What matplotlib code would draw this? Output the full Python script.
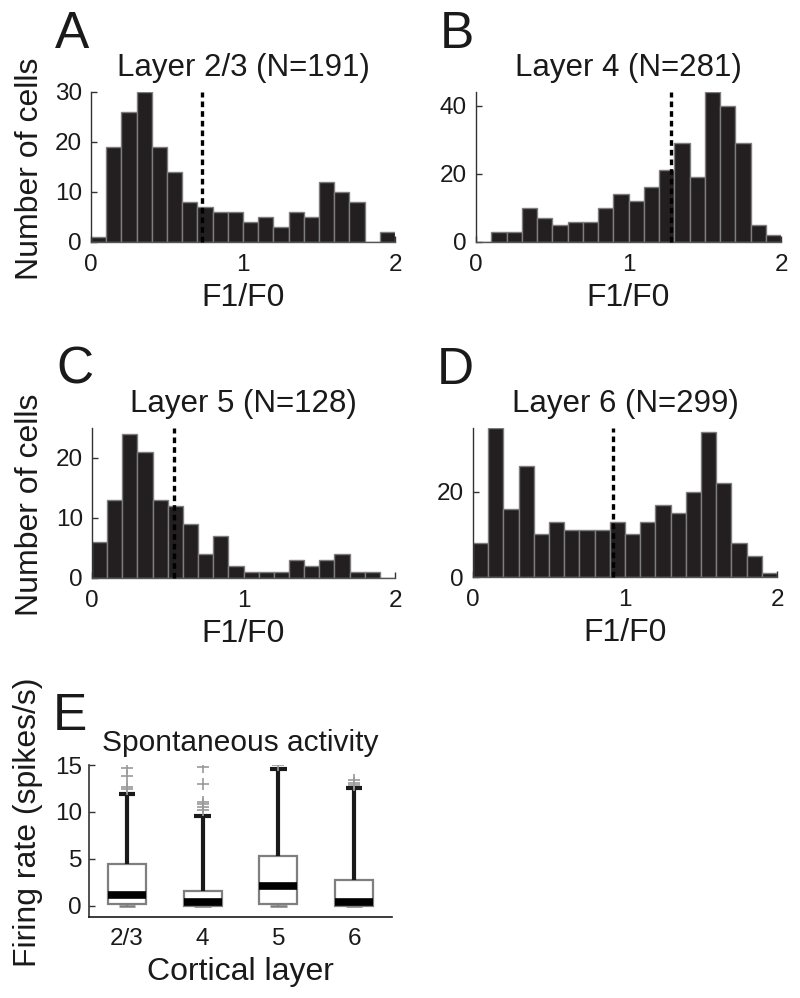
import matplotlib
matplotlib.use('Agg')
import matplotlib.pyplot as plt

plt.rcParams['font.family'] = ['Liberation Sans', 'DejaVu Sans']

# ---------------- data ----------------
bin_left = [0.0, 0.1, 0.2, 0.3, 0.4, 0.5, 0.6, 0.7, 0.8, 0.9,
            1.0, 1.1, 1.2, 1.3, 1.4, 1.5, 1.6, 1.7, 1.8, 1.9]
bin_width = 0.1

counts_l23 = [1, 19, 26, 30, 19, 14, 8, 7, 6, 6, 4, 5, 3, 6, 5, 12, 10, 8, 0, 2]
counts_l4 = [0, 3, 3, 10, 7, 5, 6, 6, 10, 14, 12, 16, 21, 29, 19, 44, 40, 29, 5, 2]
counts_l5 = [6, 13, 24, 21, 13, 12, 9, 4, 7, 2, 1, 1, 1, 3, 2, 3, 4, 1, 1, 0]
counts_l6 = [8, 35, 16, 26, 10, 13, 11, 11, 11, 13, 10, 13, 17, 15, 20, 34, 22, 8, 5, 1]

hist_titles = ['Layer 2/3 (N=191)', 'Layer 4 (N=281)', 'Layer 5 (N=128)', 'Layer 6 (N=299)']
median_f1f0 = [0.73, 1.28, 0.54, 0.92]
panel_letters = ['A', 'B', 'C', 'D', 'E']
x_ticks = [0, 1, 2]
y_limits = [30, 44, 25, 35]
y_ticks = [[0, 10, 20, 30], [0, 20, 40], [0, 10, 20], [0, 20]]

layers = ['2/3', '4', '5', '6']
q1 = [0.2, 0.0, 0.2, 0.0]
med = [1.15, 0.37, 2.1, 0.37]
q3 = [4.5, 1.55, 5.3, 2.7]
whis_lo = [0.0, 0.0, 0.0, 0.0]
whis_hi = [11.9, 9.6, 14.55, 12.5]
fliers = [[12.4, 12.7, 13.8, 14.7],
          [10.2, 10.5, 10.8, 11.1, 13.0, 14.8],
          [15.0],
          [12.9, 13.1, 13.4]]
e_yticks = [0, 5, 10, 15]

# ---------------- layout ----------------
W, H = 800, 998
fig = plt.figure(figsize=(W / 100, H / 100), dpi=100)


def px_axes(l, t, r, b):
    return fig.add_axes([l / W, 1 - b / H, (r - l) / W, (b - t) / H])


rects = [(91, 92, 395, 242), (476, 92, 781, 242),
         (92, 428, 395, 578), (473, 428, 777, 577)]
all_counts = [counts_l23, counts_l4, counts_l5, counts_l6]

BAR = '#231f20'
EDGE = '#7d7d7d'
TICK_FS = 17.5
LABEL_FS = 23
TITLE_FS = 22.5
LETTER_FS = 37

for i, (rect, counts) in enumerate(zip(rects, all_counts)):
    ax = px_axes(*rect)
    h_px = rect[3] - rect[1]
    ax.bar(bin_left, counts, width=bin_width, align='edge',
           color=BAR, edgecolor=EDGE, linewidth=1.0, zorder=2)
    ax.plot([median_f1f0[i], median_f1f0[i]], [0, y_limits[i]],
            color='black', lw=2.4, linestyle=(0, (1.7, 1.2)), zorder=3,
            clip_on=False)
    ax.set_xlim(0, 2)
    ax.set_ylim(0, y_limits[i])
    ax.set_xticks(x_ticks)
    ax.set_xticklabels([str(t) for t in x_ticks])
    ax.set_yticks(y_ticks[i])
    for s in ['top', 'right']:
        ax.spines[s].set_visible(False)
    ax.spines['left'].set_color('#333333')
    ax.spines['bottom'].set_color('#555555')
    ax.spines['left'].set_linewidth(1.0)
    ax.spines['bottom'].set_linewidth(1.0)
    ax.tick_params(axis='both', direction='in', length=4, width=1,
                   colors='#333333', labelcolor='#1a1a1a', labelsize=TICK_FS)
    ax.tick_params(axis='x', pad=8.5)
    ax.tick_params(axis='y', pad=6.5)
    ax.set_title(hist_titles[i], fontsize=TITLE_FS, pad=11.5, color='#1a1a1a')
    ax.set_xlabel('F1/F0', fontsize=LABEL_FS, color='#1a1a1a', va='top')
    ax.xaxis.set_label_coords(0.5, -41 / h_px)
    if i % 2 == 0:
        ax.set_ylabel('Number of cells', fontsize=LABEL_FS, color='#1a1a1a')
        ax.yaxis.set_label_coords(-(rect[0] - 45) / (rect[2] - rect[0]), 0.49)
    fig.text((rect[0] - 36) / W, 1 - (rect[1] - 44) / H, panel_letters[i],
             fontsize=LETTER_FS, va='baseline', ha='left', color='#1a1a1a')

# ---------------- panel E ----------------
rectE = (89, 765, 392, 917)
axE = px_axes(*rectE)
stats = []
for k in range(len(layers)):
    stats.append(dict(label=layers[k], q1=q1[k], med=med[k], q3=q3[k],
                      whislo=whis_lo[k], whishi=whis_hi[k], fliers=fliers[k]))
positions = [1, 2, 3, 4]
bp = axE.bxp(stats, positions=positions, widths=0.5, capwidths=0.22,
             patch_artist=True, showfliers=True,
             boxprops=dict(facecolor='white', edgecolor='#7f7f7f', linewidth=1.6),
             whiskerprops=dict(color='#1a1a1a', linewidth=3.0, solid_capstyle='butt'),
             capprops=dict(color='#1a1a1a', linewidth=3.0, solid_capstyle='butt'),
             medianprops=dict(color='black', linewidth=5.5, solid_capstyle='butt'),
             flierprops=dict(marker='+', markeredgecolor='#9a9a9a', markersize=8,
                             markeredgewidth=1.2, linestyle='none'))
# lower caps thin and grey, lower whiskers grey
for k in range(len(layers)):
    bp['caps'][2 * k].set_color('#7f7f7f')
    bp['caps'][2 * k].set_linewidth(1.8)
    bp['whiskers'][2 * k].set_color('#7f7f7f')
    bp['whiskers'][2 * k].set_linewidth(1.6)
for b in bp['boxes']:
    b.set_zorder(2)
for m in bp['medians']:
    m.set_zorder(3)

axE.set_xlim(0.5, 4.5)
axE.set_ylim(-1.2, 15)
axE.set_yticks(e_yticks)
axE.set_xticks(positions)
axE.set_xticklabels(layers)
for s in ['top', 'right']:
    axE.spines[s].set_visible(False)
axE.spines['left'].set_color('#333333')
axE.spines['bottom'].set_color('#1a1a1a')
axE.spines['left'].set_linewidth(1.2)
axE.spines['bottom'].set_linewidth(1.2)
axE.tick_params(axis='both', direction='in', length=4, width=1,
                colors='#333333', labelcolor='#1a1a1a', labelsize=TICK_FS)
axE.tick_params(axis='x', length=0, pad=8)
axE.tick_params(axis='y', pad=5)
axE.set_title('Spontaneous activity', fontsize=21.5, pad=10, color='#1a1a1a')
axE.set_xlabel('Cortical layer', fontsize=LABEL_FS, color='#1a1a1a', va='top')
axE.xaxis.set_label_coords(0.5, -(957 - rectE[3]) / (rectE[3] - rectE[1]))
axE.set_ylabel('Firing rate (spikes/s)', fontsize=LABEL_FS, color='#1a1a1a')
axE.yaxis.set_label_coords(-(rectE[0] - 43) / (rectE[2] - rectE[0]), 0.625)
fig.text((rectE[0] - 36) / W, 1 - (rectE[1] - 35) / H, panel_letters[4],
         fontsize=LETTER_FS, va='baseline', ha='left', color='#1a1a1a')

fig.savefig('out.png', dpi=100, facecolor='white')
